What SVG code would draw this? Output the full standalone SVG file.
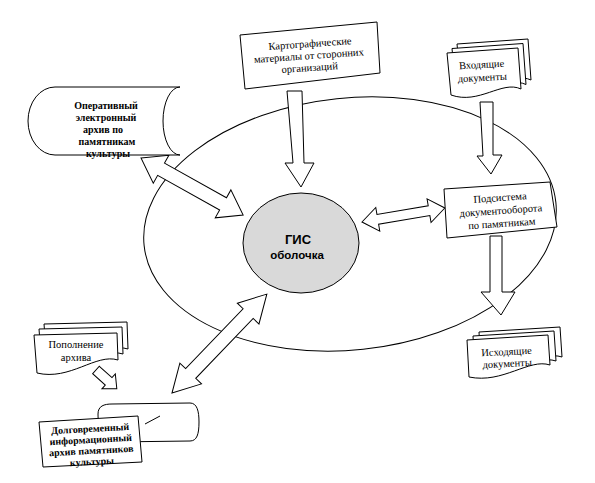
<svg xmlns="http://www.w3.org/2000/svg" xmlns:xlink="http://www.w3.org/1999/xlink" width="595" height="483" viewBox="0 0 595 483">
<style>
.s{fill:#fff;stroke:#000;stroke-width:1;stroke-linejoin:miter}
.ln{fill:none;stroke:#000;stroke-width:1}
.t{font-family:"Liberation Serif","Times New Roman",serif;font-size:10.5px;fill:#000;text-anchor:middle}
.tb{font-family:"Liberation Serif","Times New Roman",serif;font-size:10px;font-weight:bold;fill:#000;text-anchor:middle}
.g{font-family:"Liberation Sans",Arial,sans-serif;font-weight:bold;fill:#000;text-anchor:middle}
</style>
<defs>
<path id="docIn" d="M0,0 L71,-5 L74,36 C55,27 32,52 4,42 Z"/>
<path id="docOut" d="M0,0 L81,-5 L83,25 C62,18 36,44 2,37 Z"/>
<path id="docAdd" d="M0,0 L83,-2 L84,25 C62,18 36,46 3,38 Z"/>
</defs>
<rect width="595" height="483" fill="#fff"/>
<ellipse id="shell" class="ln" cx="350" cy="224" rx="207" ry="126" transform="rotate(-6 350 224)"/>
<g id="connectors">
<polygon class="s" points="287,91 302,91 304,163 314,163 301,187 285,163 293,163"/>
<polygon class="s" points="480,102 493,102 493,155 502,155 491,174 477,156 483,156"/>
<polygon class="s" points="490,236 502,236 502,292 515,292 501,315 481,292 490,292"/>
<polygon class="s" points="0,0 23,-16 23,-7 94,-7 94,-16 117,0 94,16 94,7 23,7 23,16" transform="translate(141,158) rotate(29.2)"/>
<polygon class="s" points="0,0 16,-12 16,-5 68,-5 68,-12 84,0 68,12 68,5 16,5 16,12" transform="translate(362,222) rotate(-9.6)"/>
<polygon class="s" points="0,0 27,-15 27,-7 110,-7 110,-15 137,0 110,15 110,7 27,7 27,15" transform="translate(172,393) rotate(-46.2)"/>
<polygon class="s" points="0,-5 17,-5 17,-10 28,0 17,10 17,5 0,5" transform="translate(96,370) rotate(42)"/>
</g>
<g id="gis">
<ellipse cx="301" cy="243" rx="58" ry="50" fill="#d9d9d9" stroke="#000" stroke-width="1"/>
<text class="g" x="298" y="244" font-size="13">ГИС</text>
<text class="g" x="297" y="259" font-size="11.5">оболочка</text>
</g>
<g id="carto">
<polygon class="s" points="240,35 377,22 380,73 245,89"/>
<g transform="rotate(-4 311 58)">
<text class="t" x="311" y="47">Картографические</text>
<text class="t" x="309" y="59">материалы от сторонних</text>
<text class="t" x="309" y="71">организаций</text>
</g>
</g>
<g id="incoming">
<use href="#docIn" class="s" transform="translate(457,44)"/>
<use href="#docIn" class="s" transform="translate(452,48.5)"/>
<use href="#docIn" class="s" transform="translate(447,53)"/>
<g transform="rotate(-3 482 72)">
<text class="t" x="482" y="68">Входящие</text>
<text class="t" x="482" y="81">документы</text>
</g>
</g>
<g id="operative">
<path class="s" d="M55,87 L180,87 A17,34 0 0 0 180,155 L55,155 A27,34 0 0 1 55,87 Z"/>
<text class="tb" x="106" y="109">Оперативный</text>
<text class="tb" x="106" y="121">электронный</text>
<text class="tb" x="103" y="133">архив по</text>
<text class="tb" x="107" y="145">памятникам</text>
<text class="tb" x="108" y="157">культуры</text>
</g>
<g id="subsystem">
<polygon class="s" points="444,189 550,182 557,227 447,238"/>
<g transform="rotate(-4 501 212)">
<text class="t" x="501" y="201">Подсистема</text>
<text class="t" x="501" y="214">документооборота</text>
<text class="t" x="501" y="227">по памятникам</text>
</g>
</g>
<g id="outgoing">
<use href="#docOut" class="s" transform="translate(479,332)"/>
<use href="#docOut" class="s" transform="translate(473,336)"/>
<use href="#docOut" class="s" transform="translate(467,340)"/>
<g transform="rotate(-3 507 360)">
<text class="t" x="507" y="355">Исходящие</text>
<text class="t" x="507" y="367">документы</text>
</g>
</g>
<g id="replenish">
<use href="#docAdd" class="s" transform="translate(44,324)"/>
<use href="#docAdd" class="s" transform="translate(39,329)"/>
<use href="#docAdd" class="s" transform="translate(34,335)"/>
<text class="t" x="76" y="348">Пополнение</text>
<text class="t" x="76" y="361">архива</text>
</g>
<g id="longterm">
<path class="s" d="M98,414 C98,406 104,404 112,404 L190,403 C197,403 199,411 199,422 C199,434 197,441 190,441 L112,442 C104,442 98,430 98,414 Z"/>
<line class="ln" x1="145" y1="424" x2="160" y2="416"/>
<polygon class="s" points="39,422 138,416 142,462 43,467"/>
<g transform="rotate(-3 91 445)">
<text class="tb" x="91" y="432" font-size="9.5">Долговременный</text>
<text class="tb" x="91" y="443" font-size="9.5">информационный</text>
<text class="tb" x="91" y="454" font-size="9.5">архив памятников</text>
<text class="tb" x="91" y="465" font-size="9.5">культуры</text>
</g>
</g>
</svg>
